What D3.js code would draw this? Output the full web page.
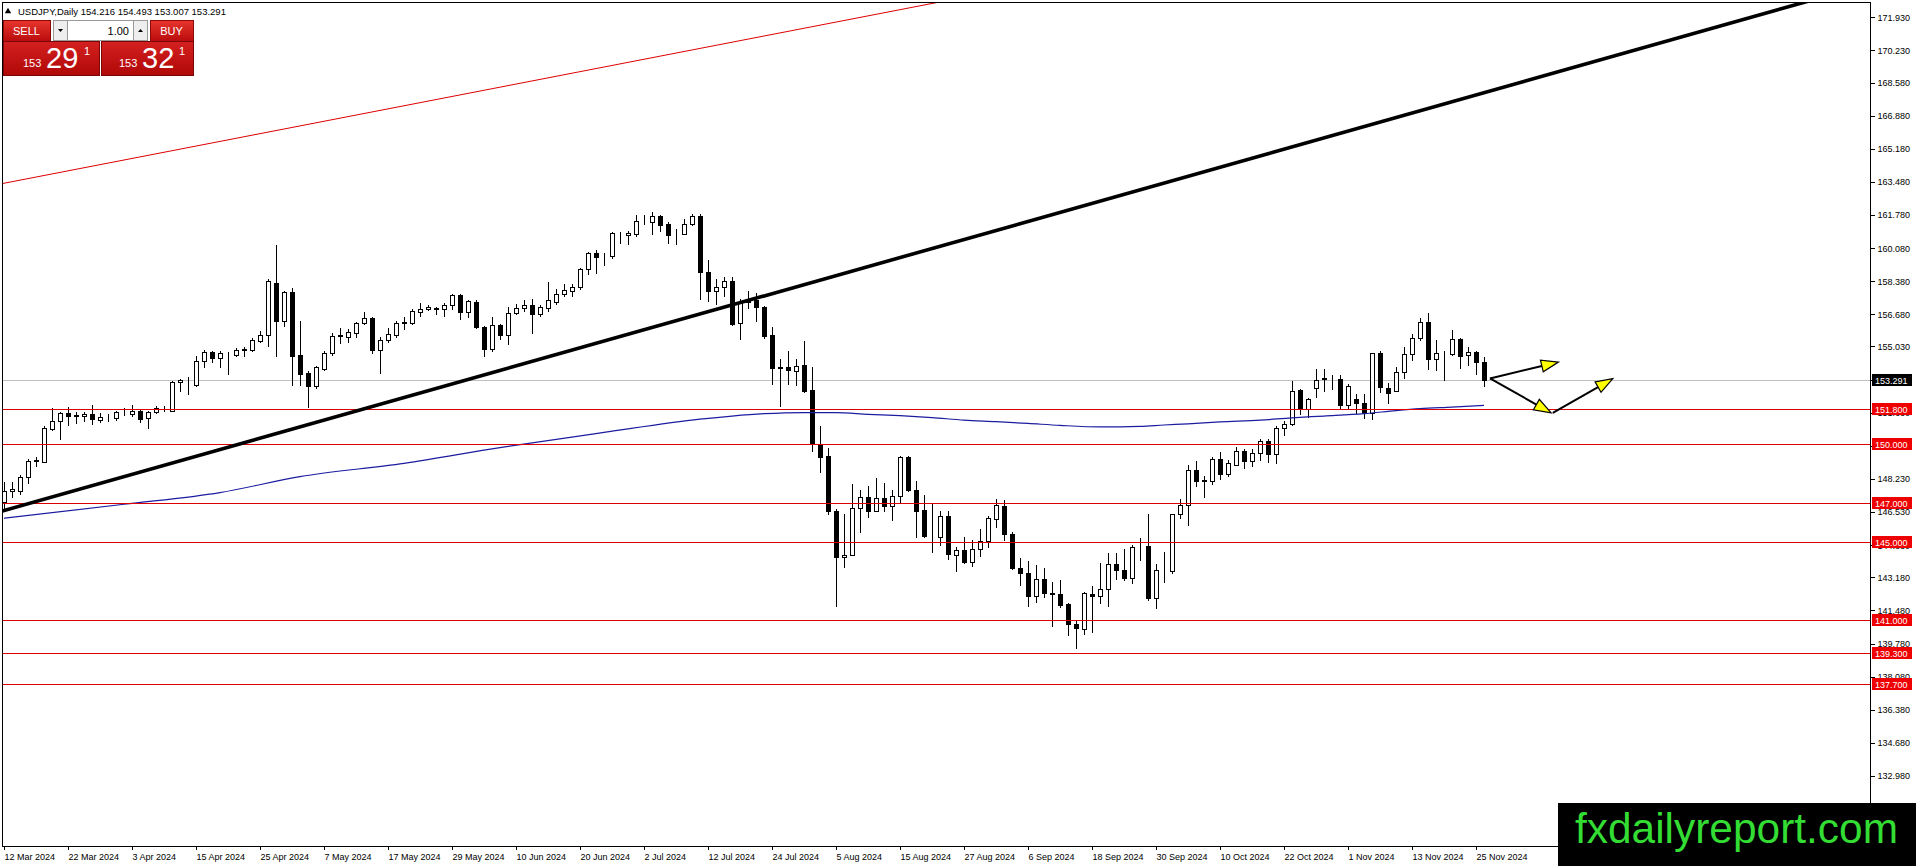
<!DOCTYPE html>
<html>
<head>
<meta charset="utf-8">
<title>USDJPY Daily</title>
<script src="https://cdnjs.cloudflare.com/ajax/libs/d3/7.8.5/d3.min.js"></script>
<style>
    html, body { margin: 0; padding: 0; background: #fff; overflow: hidden; }
    svg { display: block; font-family: "Liberation Sans", Arial, sans-serif; }
</style>
</head>
<body>
<div class="chart-area"></div>
<script>

// ---- data (one value per daily bar, 12 Mar 2024 .. 26 Nov 2024) ----

var symbolInfo = "USDJPY,Daily  154.216 154.493 153.007 153.291";

// one label every 8 bars
var dateLabels = ["12 Mar 2024", "22 Mar 2024", "3 Apr 2024", "15 Apr 2024", "25 Apr 2024", "7 May 2024",
    "17 May 2024", "29 May 2024", "10 Jun 2024", "20 Jun 2024", "2 Jul 2024", "12 Jul 2024",
    "24 Jul 2024", "5 Aug 2024", "15 Aug 2024", "27 Aug 2024", "6 Sep 2024", "18 Sep 2024",
    "30 Sep 2024", "10 Oct 2024", "22 Oct 2024", "1 Nov 2024", "13 Nov 2024", "25 Nov 2024"];

var opens = [
    147.03,147.63,147.63,148.32,149.14,149.12,150.79,151.22,151.62,151.48,
    151.45,151.57,151.28,151.42,151.34,151.65,151.58,151.72,151.34,151.65,
    151.86,151.74,153.19,153.29,153.07,154.27,154.73,154.42,154.70,154.61,
    154.87,154.85,155.33,155.64,158.29,156.36,157.81,154.61,153.65,153.02,
    153.89,154.68,155.57,155.53,155.74,156.22,156.48,154.85,155.36,155.60,
    156.25,156.22,156.82,156.94,157.00,156.94,157.18,157.66,156.82,157.33,
    156.05,154.92,156.12,155.64,156.77,157.02,157.14,156.70,157.02,157.33,
    157.74,157.88,158.10,158.99,159.81,159.67,159.68,160.84,160.77,160.79,
    161.47,161.44,161.73,161.30,160.82,160.82,161.30,161.73,158.87,157.88,
    158.10,158.40,156.23,157.31,157.42,157.05,155.63,153.94,153.97,153.76,
    154.09,152.80,150.03,149.43,146.61,144.22,144.30,146.73,147.30,146.61,
    147.24,146.83,147.35,149.35,147.67,146.64,145.28,145.24,146.32,144.30,
    144.59,143.96,144.64,145.02,146.18,146.85,145.41,143.67,143.40,142.22,
    143.10,142.37,142.30,141.79,140.80,140.52,142.33,142.23,142.59,143.88,
    143.57,143.16,144.73,144.77,142.11,143.53,143.50,146.41,146.90,148.67,
    148.15,148.15,149.27,148.50,148.96,149.69,149.15,149.57,150.18,149.53,
    150.86,151.07,152.78,151.84,152.92,153.34,153.34,153.34,152.03,152.32,
    152.15,151.63,154.68,152.92,152.74,153.74,154.63,155.48,156.30,154.37,
    154.71,154.66,155.43,154.58,154.75,154.216];

var highs = [
    148.06,148.06,148.44,149.26,149.34,150.97,151.86,151.69,151.91,151.65,
    151.65,152.03,151.60,151.57,151.74,151.86,152.03,151.75,151.72,151.96,
    151.96,153.28,153.36,153.45,154.53,154.85,154.82,154.78,154.73,154.94,
    154.99,155.45,155.84,158.50,160.24,157.90,158.02,156.36,153.79,154.05,
    154.80,155.71,156.00,155.95,156.29,156.82,156.56,155.54,156.00,156.34,
    156.56,156.94,157.25,157.14,157.08,157.28,157.74,157.71,157.42,157.40,
    156.08,156.56,156.17,157.08,157.23,157.42,157.45,157.14,158.34,158.00,
    158.22,158.22,159.08,159.88,159.97,159.81,160.91,160.91,160.96,161.78,
    161.76,161.93,161.76,161.42,161.08,161.56,161.85,161.81,159.47,158.48,
    158.60,158.60,157.48,157.90,157.80,157.10,156.02,154.40,154.82,154.40,
    155.29,153.97,150.97,149.81,146.70,146.44,147.98,147.64,147.89,148.27,
    148.03,147.64,149.43,149.40,148.15,147.42,146.96,146.56,146.56,144.73,
    145.24,145.12,145.64,146.32,147.20,147.16,145.50,144.18,144.01,143.79,
    143.67,142.93,143.02,141.86,140.93,142.42,142.71,143.93,144.44,144.44,
    144.65,144.82,145.19,146.44,143.88,144.47,146.44,147.21,148.96,149.13,
    148.36,149.35,149.61,149.18,149.86,149.78,149.78,150.29,150.26,150.95,
    151.20,153.26,152.86,152.40,153.89,153.89,153.55,153.55,153.09,152.57,
    152.57,154.71,154.80,153.14,153.99,155.02,155.65,156.47,156.77,155.36,
    154.80,155.88,155.46,155.02,154.80,154.493];

var lows = [
    146.69,147.29,147.46,148.02,148.91,149.08,150.76,150.28,151.02,151.10,
    151.19,151.05,151.14,151.21,151.28,151.51,151.48,151.17,150.85,151.62,
    151.74,151.70,152.76,152.59,153.02,153.96,154.22,154.00,153.62,154.53,
    154.56,154.80,155.28,155.04,154.56,156.10,153.07,153.07,151.91,152.88,
    153.82,154.60,155.19,155.26,155.54,156.17,154.68,153.65,155.26,155.54,
    155.91,156.17,156.60,156.89,156.72,156.60,156.94,156.42,156.56,156.00,
    154.54,154.80,155.40,155.18,156.68,156.85,155.74,156.60,156.85,157.20,
    157.62,157.62,157.96,158.74,158.79,159.21,159.59,160.33,160.31,160.70,
    161.30,160.82,160.96,160.36,160.31,160.79,161.25,157.45,157.37,157.20,
    157.60,156.11,155.39,157.00,156.33,155.46,153.11,152.00,153.11,153.03,
    152.69,149.64,148.58,146.44,141.73,143.70,144.30,145.50,146.30,146.61,
    146.61,146.10,147.04,147.59,145.24,145.24,144.47,144.85,144.13,143.48,
    143.90,143.74,144.25,144.73,145.75,145.11,143.62,142.80,141.70,141.91,
    142.16,140.66,141.65,140.20,139.55,140.28,140.37,141.86,141.70,143.07,
    143.02,142.88,144.08,142.03,141.62,142.93,143.40,146.24,145.88,147.85,
    147.30,147.98,148.24,148.36,148.96,148.80,148.87,149.21,149.10,149.07,
    150.47,150.98,151.55,151.43,152.44,152.74,152.83,151.80,151.80,151.63,
    151.38,151.32,152.69,152.15,152.74,153.39,154.34,155.36,153.89,153.82,
    153.31,154.58,153.91,154.06,153.60,153.007];

var closes = [
    147.63,147.70,148.32,149.14,149.20,150.83,151.22,151.62,151.48,151.50,
    151.57,151.31,151.40,151.43,151.65,151.65,151.72,151.31,151.65,151.86,
    151.86,153.19,153.29,153.31,154.27,154.73,154.42,154.70,154.70,154.87,
    154.90,155.37,155.64,158.41,156.36,157.81,154.56,153.62,153.02,153.96,
    154.71,155.57,155.60,155.78,156.22,156.48,154.85,155.36,155.65,156.25,
    156.27,156.85,156.94,157.04,156.97,157.18,157.66,156.82,157.37,156.03,
    154.92,156.12,155.64,156.77,157.02,157.14,156.68,157.04,157.40,157.74,
    157.91,158.10,158.99,159.81,159.64,159.68,160.84,160.84,160.88,161.47,
    161.47,161.73,161.28,160.77,160.82,161.30,161.73,158.87,157.88,158.10,
    158.40,156.19,157.31,157.38,157.05,155.59,153.92,153.96,153.80,154.05,
    152.77,150.03,149.38,146.56,144.22,144.31,146.73,147.30,146.61,147.24,
    146.83,147.35,149.35,147.64,146.61,145.28,145.32,146.32,144.39,144.59,
    143.96,144.64,145.02,146.22,146.90,145.38,143.67,143.40,142.22,143.10,
    142.37,142.33,141.77,140.80,140.57,142.39,142.23,142.59,143.88,143.57,
    143.16,144.73,144.76,142.11,143.57,143.57,146.41,146.90,148.67,148.12,
    148.16,149.27,148.50,149.06,149.69,149.15,149.57,150.17,149.53,150.86,
    151.07,152.74,151.80,152.32,153.29,153.40,153.34,152.03,153.00,152.15,
    151.63,154.68,152.95,152.66,153.74,154.63,155.48,156.30,154.37,154.68,
    154.71,155.43,154.54,154.76,154.22,153.291];

// slow moving average, read at a few bars
var maBars   = [0, 15, 27, 37, 50, 62, 75, 87, 91, 95, 100, 104, 108, 112, 116, 120,
                124, 128, 132, 137, 142, 145, 148, 152, 157, 161, 165, 170, 174, 177, 181, 185];
var maValues = [146.21, 146.93, 147.53, 148.35, 149.03, 149.84, 150.62, 151.30, 151.46, 151.58,
                151.64, 151.63, 151.55, 151.48, 151.38, 151.25, 151.17, 151.08, 150.98, 150.90,
                150.93, 151.00, 151.06, 151.16, 151.25, 151.37, 151.46, 151.58, 151.74, 151.84,
                151.92, 152.01];

var priceTicks = [171.930, 170.230, 168.580, 166.880, 165.180, 163.480, 161.780, 160.080, 158.380,
                  156.680, 155.030, 153.330, 151.630, 149.930, 148.230, 146.530, 144.830, 143.180,
                  141.480, 139.780, 138.080, 136.380, 134.680, 132.980];

var levels = [151.8, 150.0, 147.0, 145.0, 141.0, 139.3, 137.7];
var lastPrice = 153.291;

// trend lines, two anchor points each: [bar, price]
var mainTrend = [[0, 146.61], [187, 168.29]];
var upperTrend = [[0, 163.41], [116, 172.64]];

// projection arrows: [fromBar, fromPrice, toBar, toPrice]
var projections = [
    [185.75, 153.39, 194.3, 154.23],
    [185.75, 153.39, 193.4, 151.62],
    [193.6, 151.62, 201.1, 153.38]
];

var bidPrice = ["153", "29", "1"];
var askPrice = ["153", "32", "1"];
var lotSize = "1.00";


/*
 * CandleChart - draws the terminal style daily chart
 */

CandleChart = function(_parentElement) {
    this.parentElement = _parentElement;
    this.initVis();
}

CandleChart.prototype.initVis = function() {
    var vis = this;

    vis.width = 1916;
    vis.height = 866;
    vis.plot = { left: 2.5, top: 2.5, right: 1870.5, bottom: 846.5 };

    vis.svg = d3.select("." + vis.parentElement).append("svg")
        .attr("width", vis.width)
        .attr("height", vis.height);

    vis.svg.append("rect")
        .attr("width", vis.width)
        .attr("height", vis.height)
        .attr("fill", "#fff");

    vis.svg.append("clipPath")
        .attr("id", "plot-clip")
        .append("rect")
        .attr("x", vis.plot.left)
        .attr("y", vis.plot.top)
        .attr("width", vis.plot.right - vis.plot.left)
        .attr("height", vis.plot.bottom - vis.plot.top);

    // bar index -> x, price -> y
    vis.x = d3.scaleLinear().domain([0, 185]).range([4, 1484]);
    vis.y = d3.scaleLinear().domain([132.98, 171.93]).range([776, 17.3]);

    vis.wrangleData();
}

CandleChart.prototype.wrangleData = function() {
    var vis = this;

    vis.bars = opens.map(function(o, i) {
        return { i: i, o: o, h: highs[i], l: lows[i], c: closes[i] };
    });

    vis.ma = maBars.map(function(b, k) {
        return { i: b, v: maValues[k] };
    });

    vis.updateVis();
}

CandleChart.prototype.updateVis = function() {
    var vis = this;
    var x = vis.x, y = vis.y, P = vis.plot;

    var chart = vis.svg.append("g").attr("clip-path", "url(#plot-clip)");

    // current price line
    chart.append("line")
        .attr("x1", P.left).attr("x2", P.right)
        .attr("y1", Math.round(y(lastPrice)) + 0.5)
        .attr("y2", Math.round(y(lastPrice)) + 0.5)
        .attr("stroke", "#c0c0c0");

    // candles
    var candle = chart.selectAll(".candle")
        .data(vis.bars)
        .enter()
        .append("g")
        .attr("class", "candle")
        .attr("shape-rendering", "crispEdges");

    candle.append("line")
        .attr("x1", function(d) { return Math.round(x(d.i)) + 0.5; })
        .attr("x2", function(d) { return Math.round(x(d.i)) + 0.5; })
        .attr("y1", function(d) { return Math.round(y(d.h)); })
        .attr("y2", function(d) { return Math.round(y(d.l)) + 1; })
        .attr("stroke", "#000");

    candle.append("rect")
        .attr("x", function(d) { return Math.round(x(d.i)) - 1.5; })
        .attr("y", function(d) { return Math.round(y(Math.max(d.o, d.c))) + 0.5; })
        .attr("width", 4)
        .attr("height", function(d) {
            return Math.max(0, Math.round(y(Math.min(d.o, d.c))) - Math.round(y(Math.max(d.o, d.c))));
        })
        .attr("fill", function(d) { return d.c >= d.o ? "#fff" : "#000"; })
        .attr("stroke", "#000");

    // moving average
    var maLine = d3.line()
        .x(function(d) { return x(d.i); })
        .y(function(d) { return y(d.v); })
        .curve(d3.curveMonotoneX);

    chart.append("path")
        .datum(vis.ma)
        .attr("d", maLine)
        .attr("fill", "none")
        .attr("stroke", "#1c1ca0")
        .attr("stroke-width", 1.2);

    // horizontal levels
    chart.selectAll(".level")
        .data(levels)
        .enter()
        .append("line")
        .attr("class", "level")
        .attr("x1", P.left).attr("x2", P.right)
        .attr("y1", function(d) { return Math.round(y(d)) + 0.5; })
        .attr("y2", function(d) { return Math.round(y(d)) + 0.5; })
        .attr("stroke", "#dd0000")
        .attr("shape-rendering", "crispEdges");

    // trend lines, extended past their anchors
    function trendPath(anchor) {
        var t = d3.scaleLinear()
            .domain([anchor[0][0], anchor[1][0]])
            .range([anchor[0][1], anchor[1][1]]);
        return [[x(-5), y(t(-5))], [x(260), y(t(260))]];
    }

    chart.append("path")
        .attr("d", d3.line()(trendPath(upperTrend)))
        .attr("stroke", "#dd0000")
        .attr("stroke-width", 1)
        .attr("fill", "none");

    chart.append("path")
        .attr("d", d3.line()(trendPath(mainTrend)))
        .attr("stroke", "#000")
        .attr("stroke-width", 3.6)
        .attr("fill", "none");

    // projection arrows
    projections.forEach(function(a) {
        var x1 = x(a[0]), y1 = y(a[1]), x2 = x(a[2]), y2 = y(a[3]);
        var ang = Math.atan2(y2 - y1, x2 - x1);
        var len = 17, half = 6;
        var bx = x2 - len * Math.cos(ang), by = y2 - len * Math.sin(ang);

        chart.append("line")
            .attr("x1", x1).attr("y1", y1)
            .attr("x2", bx).attr("y2", by)
            .attr("stroke", "#000")
            .attr("stroke-width", 2);

        chart.append("polygon")
            .attr("points", [
                [x2, y2],
                [bx + half * Math.sin(ang), by - half * Math.cos(ang)],
                [bx - half * Math.sin(ang), by + half * Math.cos(ang)]
            ].map(function(p) { return p.join(","); }).join(" "))
            .attr("fill", "#ffff00")
            .attr("stroke", "#000")
            .attr("stroke-width", 1.2)
            .attr("stroke-linejoin", "miter");
    });

    // frame
    vis.svg.append("rect")
        .attr("x", P.left).attr("y", P.top)
        .attr("width", P.right - P.left)
        .attr("height", P.bottom - P.top)
        .attr("fill", "none")
        .attr("stroke", "#000")
        .attr("shape-rendering", "crispEdges");

    // price axis
    var yAxis = d3.axisRight(y)
        .tickValues(priceTicks)
        .tickFormat(d3.format(".3f"))
        .tickSize(4)
        .tickPadding(3);

    var yAxisGroup = vis.svg.append("g")
        .attr("class", "y-axis axis")
        .attr("transform", "translate(" + P.right + ",0)")
        .call(yAxis);
    yAxisGroup.select(".domain").remove();
    yAxisGroup.attr("font-family", null).attr("font-size", 9).attr("color", "#000");
    yAxisGroup.selectAll("line").attr("shape-rendering", "crispEdges");

    // date axis
    var xAxis = d3.axisBottom(x)
        .tickValues(dateLabels.map(function(d, k) { return k * 8; }))
        .tickFormat(function(d) { return dateLabels[d / 8]; })
        .tickSize(3)
        .tickPadding(4);

    var xAxisGroup = vis.svg.append("g")
        .attr("class", "x-axis axis")
        .attr("transform", "translate(0," + P.bottom + ")")
        .call(xAxis);
    xAxisGroup.select(".domain").remove();
    xAxisGroup.attr("font-family", null).attr("font-size", 9).attr("color", "#000");
    xAxisGroup.selectAll("text").attr("text-anchor", "start").attr("dx", 0);
    xAxisGroup.selectAll("line").attr("shape-rendering", "crispEdges");

    // level and last price tags on the axis
    function priceTag(v, fill) {
        var cy = Math.round(y(v));
        vis.svg.append("rect")
            .attr("x", 1872).attr("y", cy - 6)
            .attr("width", 40).attr("height", 12)
            .attr("fill", fill);
        vis.svg.append("text")
            .attr("x", 1875).attr("y", cy + 3.5)
            .attr("font-size", 9)
            .attr("fill", "#fff")
            .text(d3.format(".3f")(v));
    }
    levels.forEach(function(v) { priceTag(v, "#ee0000"); });
    priceTag(lastPrice, "#000");

    vis.drawHeader();
    vis.drawWatermark();
}

CandleChart.prototype.drawHeader = function() {
    var vis = this;
    var g = vis.svg.append("g").attr("class", "header");

    g.append("path")
        .attr("d", d3.symbol(d3.symbolTriangle, 18)())
        .attr("transform", "translate(8,11.5)")
        .attr("fill", "#000");

    g.append("text")
        .attr("x", 18).attr("y", 15)
        .attr("font-size", 9.5)
        .attr("xml:space", "preserve")
        .text(symbolInfo.replace("  ", " "));

    var defs = vis.svg.append("defs");
    var grad = defs.append("linearGradient")
        .attr("id", "red-btn").attr("x1", 0).attr("y1", 0).attr("x2", 0).attr("y2", 1);
    grad.append("stop").attr("offset", "0%").attr("stop-color", "#e8362e");
    grad.append("stop").attr("offset", "100%").attr("stop-color", "#b80b0b");

    var grad2 = defs.append("linearGradient")
        .attr("id", "red-box").attr("x1", 0).attr("y1", 0).attr("x2", 0).attr("y2", 1);
    grad2.append("stop").attr("offset", "0%").attr("stop-color", "#d42020");
    grad2.append("stop").attr("offset", "100%").attr("stop-color", "#b00808");

    // sell / buy buttons
    [[3, 47, "SELL", 26.5], [150, 43, "BUY", 171.5]].forEach(function(b) {
        g.append("rect")
            .attr("x", b[0] + 0.5).attr("y", 20.5)
            .attr("width", b[1]).attr("height", 21)
            .attr("fill", "url(#red-btn)")
            .attr("stroke", "#8a0a0a");
        g.append("text")
            .attr("x", b[3]).attr("y", 35)
            .attr("text-anchor", "middle")
            .attr("font-size", 11)
            .attr("fill", "#fff")
            .text(b[2]);
    });

    // lot spinner
    g.append("rect").attr("x", 53.5).attr("y", 20.5).attr("width", 94).attr("height", 20)
        .attr("fill", "#fff").attr("stroke", "#9a9a9a");
    g.append("rect").attr("x", 53.5).attr("y", 20.5).attr("width", 14).attr("height", 20)
        .attr("fill", "#eeeeee").attr("stroke", "#9a9a9a");
    g.append("rect").attr("x", 133.5).attr("y", 20.5).attr("width", 14).attr("height", 20)
        .attr("fill", "#eeeeee").attr("stroke", "#9a9a9a");
    g.append("path").attr("d", "M58,29 L63,29 L60.5,32 Z").attr("fill", "#000");
    g.append("path").attr("d", "M138,32 L143,32 L140.5,29 Z").attr("fill", "#000");
    g.append("text")
        .attr("x", 129).attr("y", 35)
        .attr("text-anchor", "end")
        .attr("font-size", 11)
        .text(lotSize);

    // bid / ask boxes
    [[3, 96, bidPrice, 23, 46, 84], [101, 92, askPrice, 119, 142, 179]].forEach(function(b) {
        g.append("rect")
            .attr("x", b[0] + 0.5).attr("y", 41.5)
            .attr("width", b[1]).attr("height", 34)
            .attr("fill", "url(#red-box)")
            .attr("stroke", "#7a0606");
        g.append("text").attr("x", b[3]).attr("y", 67)
            .attr("font-size", 11).attr("fill", "#fff").text(b[2][0]);
        g.append("text").attr("x", b[4]).attr("y", 68)
            .attr("font-size", 29).attr("fill", "#fff").text(b[2][1]);
        g.append("text").attr("x", b[5]).attr("y", 55)
            .attr("font-size", 11).attr("fill", "#fff").text(b[2][2]);
    });
}

CandleChart.prototype.drawWatermark = function() {
    var vis = this;

    vis.svg.append("rect")
        .attr("x", 1558).attr("y", 803)
        .attr("width", 358).attr("height", 63)
        .attr("fill", "#000");

    vis.svg.append("text")
        .attr("x", 1575).attr("y", 843)
        .attr("font-family", "'Liberation Sans', Arial, sans-serif")
        .attr("font-size", 42)
        .attr("textLength", 323)
        .attr("lengthAdjust", "spacingAndGlyphs")
        .attr("fill", "#33dd33")
        .text("fxdailyreport.com");
}

var chart = new CandleChart("chart-area");

</script>
</body>
</html>
